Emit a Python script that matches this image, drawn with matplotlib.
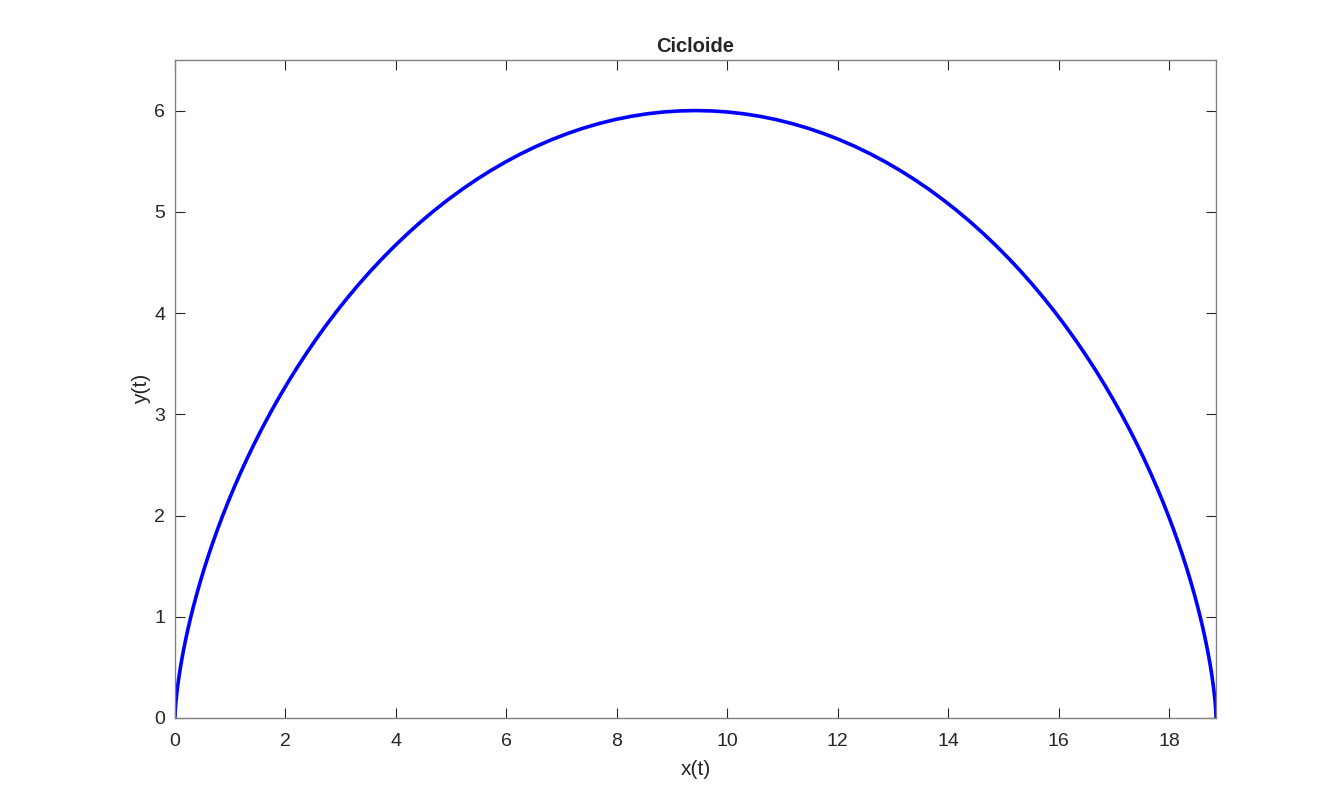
import matplotlib.pyplot as plt

# cycloid (arch from 0 to ~18.85, peak 6)
x_vals = [0.0000, 0.0005, 0.0038, 0.0074, 0.0127, 0.0202, 0.0301, 0.0427, 0.0584, 0.0776,
          0.1004, 0.1273, 0.1585, 0.1943, 0.2349, 0.2806, 0.3317, 0.3884, 0.4508, 0.5193,
          0.5940, 0.6751, 0.7627, 0.8569, 0.9580, 1.0660, 1.1810, 1.3031, 1.4323, 1.5687,
          1.7124, 1.8633, 2.0214, 2.1866, 2.3591, 2.5386, 2.7251, 2.9186, 3.1189, 3.3258,
          3.5392, 3.7591, 3.9851, 4.2172, 4.4550, 4.6985, 4.9472, 5.2012, 5.4599, 5.7233,
          5.9909, 6.2626, 6.5380, 6.8168, 7.0986, 7.3833, 7.6703, 7.9595, 8.2505, 8.5428,
          8.8362, 9.1303, 9.4248,
          9.7193, 10.0134, 10.3068, 10.5991, 10.8901, 11.1793, 11.4663, 11.7510, 12.0328,
          12.3116, 12.5870, 12.8587, 13.1263, 13.3897, 13.6484, 13.9024, 14.1511, 14.3946,
          14.6324, 14.8645, 15.0905, 15.3104, 15.5238, 15.7307, 15.9310, 16.1245, 16.3110,
          16.4905, 16.6630, 16.8282, 16.9863, 17.1372, 17.2809, 17.4173, 17.5465, 17.6686,
          17.7836, 17.8916, 17.9927, 18.0869, 18.1745, 18.2556, 18.3303, 18.3988, 18.4612,
          18.5179, 18.5690, 18.6147, 18.6553, 18.6911, 18.7223, 18.7492, 18.7720, 18.7912,
          18.8069, 18.8195, 18.8294, 18.8369, 18.8422, 18.8458, 18.8491, 18.8496]
y_vals = [0.0, 0.0144, 0.0576, 0.0899, 0.1292, 0.1754, 0.2284, 0.2880, 0.3542, 0.4268,
          0.5056, 0.5904, 0.6810, 0.7771, 0.8787, 0.9853, 1.0968, 1.2129, 1.3333, 1.4577,
          1.5858, 1.7173, 1.8520, 1.9893, 2.1291, 2.2711, 2.4147, 2.5598, 2.7059, 2.8528,
          3.0, 3.1472, 3.2941, 3.4402, 3.5853, 3.7289, 3.8709, 4.0107, 4.1480, 4.2827,
          4.4142, 4.5423, 4.6667, 4.7871, 4.9032, 5.0147, 5.1213, 5.2229, 5.3190, 5.4096,
          5.4944, 5.5732, 5.6458, 5.7120, 5.7716, 5.8246, 5.8708, 5.9101, 5.9424, 5.9675,
          5.9856, 5.9964, 6.0,
          5.9964, 5.9856, 5.9675, 5.9424, 5.9101, 5.8708, 5.8246, 5.7716, 5.7120,
          5.6458, 5.5732, 5.4944, 5.4096, 5.3190, 5.2229, 5.1213, 5.0147, 4.9032,
          4.7871, 4.6667, 4.5423, 4.4142, 4.2827, 4.1480, 4.0107, 3.8709, 3.7289,
          3.5853, 3.4402, 3.2941, 3.1472, 3.0, 2.8528, 2.7059, 2.5598, 2.4147,
          2.2711, 2.1291, 1.9893, 1.8520, 1.7173, 1.5858, 1.4577, 1.3333, 1.2129,
          1.0968, 0.9853, 0.8787, 0.7771, 0.6810, 0.5904, 0.5056, 0.4268, 0.3542,
          0.2880, 0.2284, 0.1754, 0.1292, 0.0899, 0.0576, 0.0144, 0.0]

x_ticks = [0, 2, 4, 6, 8, 10, 12, 14, 16, 18]
y_ticks = [0, 1, 2, 3, 4, 5, 6]
x_max = 18.8496
y_max = 6.5

plt.rcParams['font.family'] = ['Liberation Sans', 'DejaVu Sans']

fig = plt.figure(figsize=(13.44, 8.08), dpi=100)
ax = fig.add_axes([0.1302, 0.1114, 0.7746, 0.8144])

ax.plot(x_vals, y_vals, color='#0000ff', linewidth=2.6, solid_joinstyle='round')

ax.set_xlim(0, x_max)
ax.set_ylim(0, y_max)
ax.set_xticks(x_ticks)
ax.set_yticks(y_ticks)

# matlab-ish look: ticks inside on all four sides, grey box
ax.tick_params(direction='in', length=7, width=0.8, color='#262626',
               top=True, right=True, labelsize=14, labelcolor='#262626')
ax.tick_params(axis='x', pad=11)
ax.tick_params(axis='y', pad=7)
for sp in ax.spines.values():
    sp.set_color('#808080')
    sp.set_linewidth(1.0)

ax.set_title('Cicloide', fontsize=14.5, fontweight='bold', color='#262626', pad=6)
ax.set_xlabel('x(t)', fontsize=15, color='#262626', labelpad=7)
ax.set_ylabel('y(t)', fontsize=15, color='#262626', labelpad=2)

plt.savefig('out.png', dpi=100)
